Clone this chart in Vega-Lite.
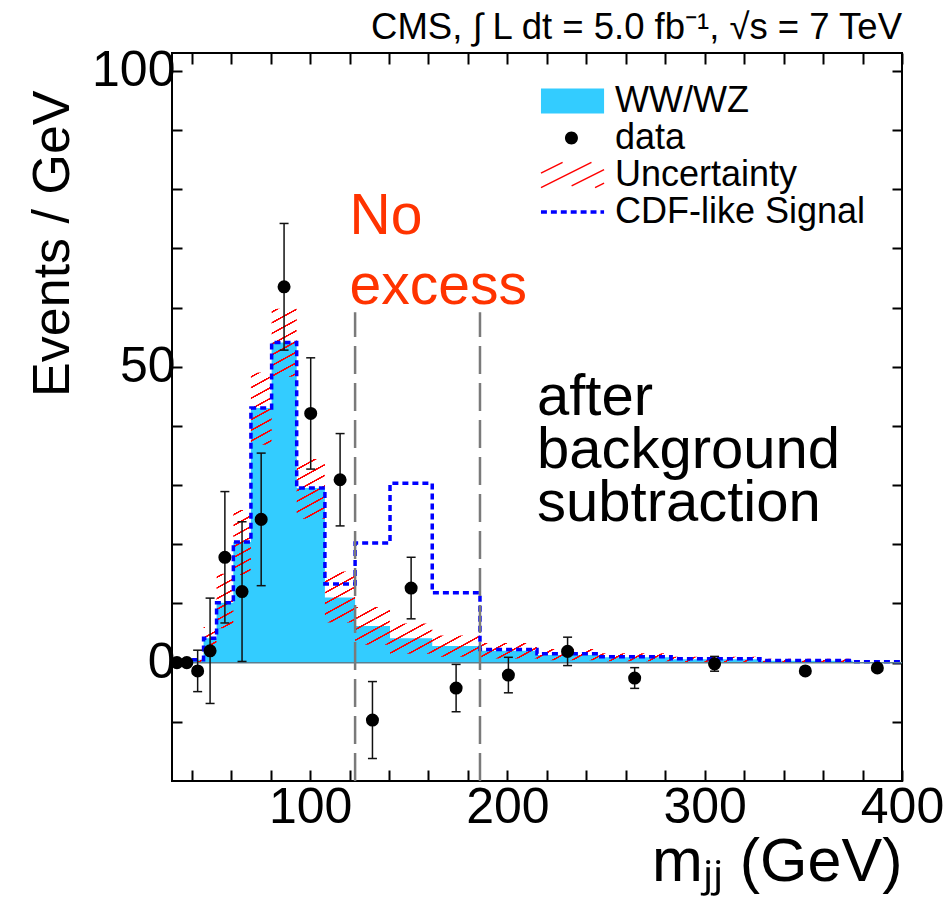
{
  "$schema": "https://vega.github.io/schema/vega-lite/v6.json",
  "width": 730,
  "height": 728,
  "autosize": {"type": "none"},
  "padding": {"left": 172, "top": 53, "right": 45, "bottom": 123},
  "background": "white",
  "title": {"text": "CMS, ∫ L dt = 5.0 fb⁻¹, √s = 7 TeV", "anchor": "end", "frame": "group", "fontSize": 36.5, "font": "Liberation Sans", "fontWeight": "normal", "color": "black", "offset": 5, "baseline": "bottom", "dy": 43},
  "config": {
    "font": "Liberation Sans",
    "view": {"stroke": "black", "strokeWidth": 2},
    "axis": {"tickColor": "black", "tickWidth": 2, "labelColor": "black", "titleColor": "black", "titleFontWeight": "normal", "labelFont": "Liberation Sans", "titleFont": "Liberation Sans", "grid": false, "domain": false},
    "legend": {"labelFont": "Liberation Sans", "labelFontSize": 36, "labelColor": "black", "labelLimit": 0, "padding": 0, "rowPadding": -2, "symbolSize": 1300, "symbolStrokeWidth": 1.5, "symbolOpacity": 1, "labelOffset": 37, "titlePadding": 0}
  },
  "datasets": {
    "hist": [
      {"m": 30, "ww": 0, "sig": 0},
      {"m": 35, "ww": 0, "sig": 0},
      {"m": 40, "ww": 0.5, "sig": 0.5, "lo": 0, "hi": 1.0},
      {"m": 46, "ww": 4.1, "sig": 4.1, "lo": 2.3, "hi": 6.0},
      {"m": 52.6, "ww": 10.1, "sig": 10.1, "lo": 5.8, "hi": 15.0},
      {"m": 61.1, "ww": 20.4, "sig": 20.4, "lo": 14.8, "hi": 25.8},
      {"m": 70, "ww": 43.0, "sig": 43.0, "lo": 36.8, "hi": 49.0},
      {"m": 80.5, "ww": 54.1, "sig": 54.1, "lo": 48.3, "hi": 59.8},
      {"m": 93.2, "ww": 29.5, "sig": 29.5, "lo": 24.3, "hi": 34.4},
      {"m": 107.5, "ww": 11.0, "sig": 13.3, "lo": 6.8, "hi": 15.4},
      {"m": 122.8, "ww": 6.2, "sig": 20.2, "lo": 3.0, "hi": 9.4},
      {"m": 140.5, "ww": 4.1, "sig": 30.3, "lo": 1.5, "hi": 6.6},
      {"m": 161.9, "ww": 2.8, "sig": 11.8, "lo": 1.0, "hi": 4.6},
      {"m": 186.1, "ww": 2.0, "sig": 2.2, "lo": 0.7, "hi": 3.3},
      {"m": 215, "ww": 1.3, "sig": 1.5, "lo": 0.4, "hi": 2.3},
      {"m": 246, "ww": 0.9, "sig": 1.0, "lo": 0.25, "hi": 1.6},
      {"m": 283, "ww": 0.55, "sig": 0.65, "lo": 0.1, "hi": 1.0},
      {"m": 328, "ww": 0.3, "sig": 0.35, "lo": 0.0, "hi": 0.65},
      {"m": 375, "ww": 0.1, "sig": 0.15, "lo": -0.1, "hi": 0.35},
      {"m": 400, "ww": 0.1, "sig": 0.15, "lo": -0.1, "hi": 0.35}
    ],
    "pts": [
      {"m": 32.5, "n": 0, "lo": 0, "hi": 0},
      {"m": 37.5, "n": 0, "lo": 0, "hi": 0},
      {"m": 43, "n": -1.4, "lo": -4.9, "hi": 2.1},
      {"m": 49.3, "n": 2.0, "lo": -6.9, "hi": 10.9},
      {"m": 56.8, "n": 17.8, "lo": 6.7, "hi": 28.9},
      {"m": 65.5, "n": 12.0, "lo": 0.2, "hi": 23.8},
      {"m": 75.2, "n": 24.2, "lo": 13.0, "hi": 35.4},
      {"m": 86.8, "n": 63.5, "lo": 52.8, "hi": 74.2},
      {"m": 100.3, "n": 42.1, "lo": 32.7, "hi": 51.5},
      {"m": 115.2, "n": 30.9, "lo": 23.1, "hi": 38.7},
      {"m": 131.6, "n": -9.7, "lo": -16.2, "hi": -3.2},
      {"m": 151.2, "n": 12.6, "lo": 7.4, "hi": 17.8},
      {"m": 174, "n": -4.3, "lo": -8.3, "hi": -0.3},
      {"m": 200.5, "n": -2.1, "lo": -5.1, "hi": 0.9},
      {"m": 230.5, "n": 1.9, "lo": -0.5, "hi": 4.3},
      {"m": 264.5, "n": -2.6, "lo": -4.35, "hi": -0.85},
      {"m": 305, "n": -0.2, "lo": -1.45, "hi": 1.05},
      {"m": 351, "n": -1.4, "lo": -2.0, "hi": -0.8},
      {"m": 387.5, "n": -0.9, "lo": -1.4, "hi": -0.4}
    ],
    "cuts": [{"m": 122.8}, {"m": 186.1}],
    "one": [{}]
  },
  "resolve": {"axis": {"x": "independent", "y": "independent"}},
  "layer": [
    {
      "data": {"name": "hist"},
      "mark": {"type": "area", "interpolate": "step-after", "color": "#33ccff", "opacity": 1},
      "encoding": {
        "x": {"field": "m", "type": "quantitative", "scale": {"domain": [30, 400], "nice": false, "zero": false},
          "axis": {"orient": "bottom", "values": [40, 60, 80, 100, 120, 140, 160, 180, 200, 220, 240, 260, 280, 300, 320, 340, 360, 380, 400],
            "labelExpr": "datum.value % 100 === 0 ? datum.label : ''", "ticks": true, "tickSize": -11, "labelFlush": false, "labelBound": false, "labelOverlap": false,
            "labelPadding": 12, "labelFontSize": 50, "title": "mⱼⱼ (GeV)", "titleFontSize": 61, "titleAnchor": "end", "titleAlign": "right", "titleBaseline": "alphabetic", "titleX": 730, "titleY": 99,
            "encode": {"ticks": {"y2": {"value": {"expr": "datum.value % 100 === 0 ? -20 : -11"}}}}}},
        "y": {"field": "ww", "type": "quantitative", "scale": {"domain": [-20, 103], "nice": false, "zero": false},
          "axis": {"orient": "left", "values": [-10, 0, 10, 20, 30, 40, 50, 60, 70, 80, 90, 100],
            "labelExpr": "datum.value % 50 === 0 ? datum.label : ''", "ticks": true, "tickSize": -10, "labelFlush": false, "labelOverlap": false,
            "labelPadding": 7, "labelFontSize": 50, "title": "Events / GeV", "titleFontSize": 52, "titleAngle": 270, "titleAnchor": "end", "titleAlign": "right", "titleBaseline": "alphabetic", "titleX": -104, "titleY": 37,
            "encode": {"ticks": {"x2": {"value": {"expr": "datum.value % 50 === 0 ? 22 : 10"}}}}}},
        "y2": {"datum": 0}
      }
    },
    {
      "data": {"name": "hist"},
      "transform": [{"filter": {"field": "lo", "valid": true}}],
      "mark": {"type": "area", "interpolate": "step-after", "fill": {"gradient": "linear", "x1": 0, "y1": 0, "x2": 1, "y2": 0.91, "stops": [
        {"offset":0.005,"color":"#f000"},{"offset":0.0055,"color":"#f00"},{"offset":0.0075,"color":"#f00"},{"offset":0.008,"color":"#f000"},
        {"offset":0.02,"color":"#f000"},{"offset":0.0205,"color":"#f00"},{"offset":0.0225,"color":"#f00"},{"offset":0.023,"color":"#f000"},
        {"offset":0.035,"color":"#f000"},{"offset":0.0355,"color":"#f00"},{"offset":0.0375,"color":"#f00"},{"offset":0.038,"color":"#f000"},
        {"offset":0.05,"color":"#f000"},{"offset":0.0505,"color":"#f00"},{"offset":0.0525,"color":"#f00"},{"offset":0.053,"color":"#f000"},
        {"offset":0.065,"color":"#f000"},{"offset":0.0655,"color":"#f00"},{"offset":0.0675,"color":"#f00"},{"offset":0.068,"color":"#f000"},
        {"offset":0.08,"color":"#f000"},{"offset":0.0805,"color":"#f00"},{"offset":0.0825,"color":"#f00"},{"offset":0.083,"color":"#f000"},
        {"offset":0.095,"color":"#f000"},{"offset":0.0955,"color":"#f00"},{"offset":0.0975,"color":"#f00"},{"offset":0.098,"color":"#f000"},
        {"offset":0.11,"color":"#f000"},{"offset":0.1105,"color":"#f00"},{"offset":0.1125,"color":"#f00"},{"offset":0.113,"color":"#f000"},
        {"offset":0.125,"color":"#f000"},{"offset":0.1255,"color":"#f00"},{"offset":0.1275,"color":"#f00"},{"offset":0.128,"color":"#f000"},
        {"offset":0.14,"color":"#f000"},{"offset":0.1405,"color":"#f00"},{"offset":0.1425,"color":"#f00"},{"offset":0.143,"color":"#f000"},
        {"offset":0.155,"color":"#f000"},{"offset":0.1555,"color":"#f00"},{"offset":0.1575,"color":"#f00"},{"offset":0.158,"color":"#f000"},
        {"offset":0.17,"color":"#f000"},{"offset":0.1705,"color":"#f00"},{"offset":0.1725,"color":"#f00"},{"offset":0.173,"color":"#f000"},
        {"offset":0.185,"color":"#f000"},{"offset":0.1855,"color":"#f00"},{"offset":0.1875,"color":"#f00"},{"offset":0.188,"color":"#f000"},
        {"offset":0.2,"color":"#f000"},{"offset":0.2005,"color":"#f00"},{"offset":0.2025,"color":"#f00"},{"offset":0.203,"color":"#f000"},
        {"offset":0.215,"color":"#f000"},{"offset":0.2155,"color":"#f00"},{"offset":0.2175,"color":"#f00"},{"offset":0.218,"color":"#f000"},
        {"offset":0.23,"color":"#f000"},{"offset":0.2305,"color":"#f00"},{"offset":0.2325,"color":"#f00"},{"offset":0.233,"color":"#f000"},
        {"offset":0.245,"color":"#f000"},{"offset":0.2455,"color":"#f00"},{"offset":0.2475,"color":"#f00"},{"offset":0.248,"color":"#f000"},
        {"offset":0.26,"color":"#f000"},{"offset":0.2605,"color":"#f00"},{"offset":0.2625,"color":"#f00"},{"offset":0.263,"color":"#f000"},
        {"offset":0.275,"color":"#f000"},{"offset":0.2755,"color":"#f00"},{"offset":0.2775,"color":"#f00"},{"offset":0.278,"color":"#f000"},
        {"offset":0.29,"color":"#f000"},{"offset":0.2905,"color":"#f00"},{"offset":0.2925,"color":"#f00"},{"offset":0.293,"color":"#f000"},
        {"offset":0.305,"color":"#f000"},{"offset":0.3055,"color":"#f00"},{"offset":0.3075,"color":"#f00"},{"offset":0.308,"color":"#f000"},
        {"offset":0.32,"color":"#f000"},{"offset":0.3205,"color":"#f00"},{"offset":0.3225,"color":"#f00"},{"offset":0.323,"color":"#f000"},
        {"offset":0.335,"color":"#f000"},{"offset":0.3355,"color":"#f00"},{"offset":0.3375,"color":"#f00"},{"offset":0.338,"color":"#f000"},
        {"offset":0.35,"color":"#f000"},{"offset":0.3505,"color":"#f00"},{"offset":0.3525,"color":"#f00"},{"offset":0.353,"color":"#f000"},
        {"offset":0.365,"color":"#f000"},{"offset":0.3655,"color":"#f00"},{"offset":0.3675,"color":"#f00"},{"offset":0.368,"color":"#f000"},
        {"offset":0.38,"color":"#f000"},{"offset":0.3805,"color":"#f00"},{"offset":0.3825,"color":"#f00"},{"offset":0.383,"color":"#f000"},
        {"offset":0.395,"color":"#f000"},{"offset":0.3955,"color":"#f00"},{"offset":0.3975,"color":"#f00"},{"offset":0.398,"color":"#f000"},
        {"offset":0.41,"color":"#f000"},{"offset":0.4105,"color":"#f00"},{"offset":0.4125,"color":"#f00"},{"offset":0.413,"color":"#f000"},
        {"offset":0.425,"color":"#f000"},{"offset":0.4255,"color":"#f00"},{"offset":0.4275,"color":"#f00"},{"offset":0.428,"color":"#f000"},
        {"offset":0.44,"color":"#f000"},{"offset":0.4405,"color":"#f00"},{"offset":0.4425,"color":"#f00"},{"offset":0.443,"color":"#f000"},
        {"offset":0.455,"color":"#f000"},{"offset":0.4555,"color":"#f00"},{"offset":0.4575,"color":"#f00"},{"offset":0.458,"color":"#f000"},
        {"offset":0.47,"color":"#f000"},{"offset":0.4705,"color":"#f00"},{"offset":0.4725,"color":"#f00"},{"offset":0.473,"color":"#f000"},
        {"offset":0.485,"color":"#f000"},{"offset":0.4855,"color":"#f00"},{"offset":0.4875,"color":"#f00"},{"offset":0.488,"color":"#f000"},
        {"offset":0.5,"color":"#f000"},{"offset":0.5005,"color":"#f00"},{"offset":0.5025,"color":"#f00"},{"offset":0.503,"color":"#f000"},
        {"offset":0.515,"color":"#f000"},{"offset":0.5155,"color":"#f00"},{"offset":0.5175,"color":"#f00"},{"offset":0.518,"color":"#f000"},
        {"offset":0.53,"color":"#f000"},{"offset":0.5305,"color":"#f00"},{"offset":0.5325,"color":"#f00"},{"offset":0.533,"color":"#f000"},
        {"offset":0.545,"color":"#f000"},{"offset":0.5455,"color":"#f00"},{"offset":0.5475,"color":"#f00"},{"offset":0.548,"color":"#f000"},
        {"offset":0.56,"color":"#f000"},{"offset":0.5605,"color":"#f00"},{"offset":0.5625,"color":"#f00"},{"offset":0.563,"color":"#f000"},
        {"offset":0.575,"color":"#f000"},{"offset":0.5755,"color":"#f00"},{"offset":0.5775,"color":"#f00"},{"offset":0.578,"color":"#f000"},
        {"offset":0.59,"color":"#f000"},{"offset":0.5905,"color":"#f00"},{"offset":0.5925,"color":"#f00"},{"offset":0.593,"color":"#f000"},
        {"offset":0.605,"color":"#f000"},{"offset":0.6055,"color":"#f00"},{"offset":0.6075,"color":"#f00"},{"offset":0.608,"color":"#f000"},
        {"offset":0.62,"color":"#f000"},{"offset":0.6205,"color":"#f00"},{"offset":0.6225,"color":"#f00"},{"offset":0.623,"color":"#f000"},
        {"offset":0.635,"color":"#f000"},{"offset":0.6355,"color":"#f00"},{"offset":0.6375,"color":"#f00"},{"offset":0.638,"color":"#f000"},
        {"offset":0.65,"color":"#f000"},{"offset":0.6505,"color":"#f00"},{"offset":0.6525,"color":"#f00"},{"offset":0.653,"color":"#f000"},
        {"offset":0.665,"color":"#f000"},{"offset":0.6655,"color":"#f00"},{"offset":0.6675,"color":"#f00"},{"offset":0.668,"color":"#f000"},
        {"offset":0.68,"color":"#f000"},{"offset":0.6805,"color":"#f00"},{"offset":0.6825,"color":"#f00"},{"offset":0.683,"color":"#f000"},
        {"offset":0.695,"color":"#f000"},{"offset":0.6955,"color":"#f00"},{"offset":0.6975,"color":"#f00"},{"offset":0.698,"color":"#f000"},
        {"offset":0.71,"color":"#f000"},{"offset":0.7105,"color":"#f00"},{"offset":0.7125,"color":"#f00"},{"offset":0.713,"color":"#f000"},
        {"offset":0.725,"color":"#f000"},{"offset":0.7255,"color":"#f00"},{"offset":0.7275,"color":"#f00"},{"offset":0.728,"color":"#f000"},
        {"offset":0.74,"color":"#f000"},{"offset":0.7405,"color":"#f00"},{"offset":0.7425,"color":"#f00"},{"offset":0.743,"color":"#f000"},
        {"offset":0.755,"color":"#f000"},{"offset":0.7555,"color":"#f00"},{"offset":0.7575,"color":"#f00"},{"offset":0.758,"color":"#f000"},
        {"offset":0.77,"color":"#f000"},{"offset":0.7705,"color":"#f00"},{"offset":0.7725,"color":"#f00"},{"offset":0.773,"color":"#f000"},
        {"offset":0.785,"color":"#f000"},{"offset":0.7855,"color":"#f00"},{"offset":0.7875,"color":"#f00"},{"offset":0.788,"color":"#f000"},
        {"offset":0.8,"color":"#f000"},{"offset":0.8005,"color":"#f00"},{"offset":0.8025,"color":"#f00"},{"offset":0.803,"color":"#f000"},
        {"offset":0.815,"color":"#f000"},{"offset":0.8155,"color":"#f00"},{"offset":0.8175,"color":"#f00"},{"offset":0.818,"color":"#f000"},
        {"offset":0.83,"color":"#f000"},{"offset":0.8305,"color":"#f00"},{"offset":0.8325,"color":"#f00"},{"offset":0.833,"color":"#f000"},
        {"offset":0.845,"color":"#f000"},{"offset":0.8455,"color":"#f00"},{"offset":0.8475,"color":"#f00"},{"offset":0.848,"color":"#f000"},
        {"offset":0.86,"color":"#f000"},{"offset":0.8605,"color":"#f00"},{"offset":0.8625,"color":"#f00"},{"offset":0.863,"color":"#f000"},
        {"offset":0.875,"color":"#f000"},{"offset":0.8755,"color":"#f00"},{"offset":0.8775,"color":"#f00"},{"offset":0.878,"color":"#f000"},
        {"offset":0.89,"color":"#f000"},{"offset":0.8905,"color":"#f00"},{"offset":0.8925,"color":"#f00"},{"offset":0.893,"color":"#f000"},
        {"offset":0.905,"color":"#f000"},{"offset":0.9055,"color":"#f00"},{"offset":0.9075,"color":"#f00"},{"offset":0.908,"color":"#f000"},
        {"offset":0.92,"color":"#f000"},{"offset":0.9205,"color":"#f00"},{"offset":0.9225,"color":"#f00"},{"offset":0.923,"color":"#f000"},
        {"offset":0.935,"color":"#f000"},{"offset":0.9355,"color":"#f00"},{"offset":0.9375,"color":"#f00"},{"offset":0.938,"color":"#f000"},
        {"offset":0.95,"color":"#f000"},{"offset":0.9505,"color":"#f00"},{"offset":0.9525,"color":"#f00"},{"offset":0.953,"color":"#f000"},
        {"offset":0.965,"color":"#f000"},{"offset":0.9655,"color":"#f00"},{"offset":0.9675,"color":"#f00"},{"offset":0.968,"color":"#f000"},
        {"offset":0.98,"color":"#f000"},{"offset":0.9805,"color":"#f00"},{"offset":0.9825,"color":"#f00"},{"offset":0.983,"color":"#f000"},
        {"offset":0.995,"color":"#f000"},{"offset":0.9955,"color":"#f00"},{"offset":0.9975,"color":"#f00"},{"offset":0.998,"color":"#f000"}
      ]}},
      "encoding": {
        "x": {"field": "m", "type": "quantitative", "scale": {"domain": [30, 400], "nice": false, "zero": false},
          "axis": {"orient": "top", "values": [40, 60, 80, 100, 120, 140, 160, 180, 200, 220, 240, 260, 280, 300, 320, 340, 360, 380, 400],
            "labels": false, "ticks": true, "tickSize": -11, "title": null,
            "encode": {"ticks": {"y2": {"value": {"expr": "datum.value % 100 === 0 ? 20 : 11"}}}}}},
        "y": {"field": "lo", "type": "quantitative", "scale": {"domain": [-20, 103], "nice": false, "zero": false},
          "axis": {"orient": "right", "values": [-10, 0, 10, 20, 30, 40, 50, 60, 70, 80, 90, 100],
            "labels": false, "ticks": true, "tickSize": -10, "title": null,
            "encode": {"ticks": {"x2": {"value": {"expr": "datum.value % 50 === 0 ? -22 : -10"}}}}}},
        "y2": {"field": "hi"}
      }
    },
    {
      "data": {"name": "hist"},
      "transform": [{"filter": "datum.m >= 40"}],
      "mark": {"type": "line", "interpolate": "step-after", "color": "#0000ff", "strokeWidth": 3.5, "strokeDash": [6, 4]},
      "encoding": {
        "x": {"field": "m", "type": "quantitative", "axis": null},
        "y": {"field": "sig", "type": "quantitative", "axis": null}
      }
    },
    {
      "data": {"name": "one"},
      "mark": {"type": "rule", "color": "#5b7f8f", "strokeWidth": 1.5},
      "encoding": {
        "x": {"datum": 30, "type": "quantitative", "axis": null},
        "x2": {"datum": 400},
        "y": {"datum": 0, "type": "quantitative", "axis": null}
      }
    },
    {
      "data": {"name": "cuts"},
      "mark": {"type": "rule", "color": "#7a7a7a", "strokeWidth": 2.5, "strokeDash": [28, 9]},
      "encoding": {
        "x": {"field": "m", "type": "quantitative", "axis": null},
        "y": {"datum": -20, "type": "quantitative", "axis": null},
        "y2": {"datum": 59.2}
      }
    },
    {
      "data": {"name": "pts"},
      "mark": {"type": "rule", "color": "#111111", "strokeWidth": 1.5},
      "encoding": {
        "x": {"field": "m", "type": "quantitative", "axis": null},
        "y": {"field": "lo", "type": "quantitative", "axis": null},
        "y2": {"field": "hi"}
      }
    },
    {
      "data": {"name": "pts"},
      "mark": {"type": "tick", "orient": "horizontal", "size": 9, "thickness": 1.5, "color": "#111111", "opacity": 1},
      "encoding": {
        "x": {"field": "m", "type": "quantitative", "axis": null},
        "y": {"field": "lo", "type": "quantitative", "axis": null}
      }
    },
    {
      "data": {"name": "pts"},
      "mark": {"type": "tick", "orient": "horizontal", "size": 9, "thickness": 1.5, "color": "#111111", "opacity": 1},
      "encoding": {
        "x": {"field": "m", "type": "quantitative", "axis": null},
        "y": {"field": "hi", "type": "quantitative", "axis": null}
      }
    },
    {
      "data": {"name": "pts"},
      "mark": {"type": "point", "filled": true, "size": 170, "opacity": 1, "color": "black"},
      "encoding": {
        "x": {"field": "m", "type": "quantitative", "axis": null},
        "y": {"field": "n", "type": "quantitative", "axis": null}
      }
    },
    {
      "data": {"name": "one"},
      "mark": {"type": "point", "filled": true, "opacity": 0},
      "encoding": {
        "x": {"datum": 30, "type": "quantitative", "axis": null},
        "y": {"datum": 0, "type": "quantitative", "axis": null},
        "color": {"datum": "WW/WZ", "type": "nominal",
          "scale": {"domain": ["WW/WZ", "data", "Uncertainty", "CDF-like Signal"], "range": ["#33ccff", "black", "transparent", "blue"]},
          "legend": {"title": null, "orient": "none", "legendX": 368, "legendY": 29}},
        "stroke": {"datum": "WW/WZ", "type": "nominal",
          "scale": {"domain": ["WW/WZ", "data", "Uncertainty", "CDF-like Signal"], "range": ["transparent", "transparent", "red", "transparent"]},
          "legend": {"title": null, "orient": "none", "legendX": 368, "legendY": 29}},
        "shape": {"datum": "WW/WZ", "type": "nominal",
          "scale": {"domain": ["WW/WZ", "data", "Uncertainty", "CDF-like Signal"], "range": [
            "M-1,-0.7H2.5V0.7H-1Z",
            "M0.33,0A0.36,0.36,0,1,1,1.05,0A0.36,0.36,0,1,1,0.33,0Z",
            "M-1,-0.1L0.2,-0.7M-1,0.7L1.8,-0.7M0.7,0.6L2.5,-0.3M2,0.7L2.5,0.45",
            "M-1,-0.1H-0.67V0.1H-1ZM-0.45,-0.1H-0.12V0.1H-0.45ZM0.1,-0.1H0.43V0.1H0.1ZM0.65,-0.1H0.98V0.1H0.65ZM1.2,-0.1H1.53V0.1H1.2ZM1.75,-0.1H2.08V0.1H1.75ZM2.3,-0.1H2.5V0.1H2.3Z"
          ]},
          "legend": {"title": null, "orient": "none", "legendX": 368, "legendY": 29}}
      }
    },
    {
      "data": {"name": "one"},
      "mark": {"type": "text", "text": ["No", "excess"], "align": "left", "baseline": "alphabetic", "fontSize": 57, "lineHeight": 70, "color": "#ff3300", "font": "Liberation Sans"},
      "encoding": {
        "x": {"datum": 120, "type": "quantitative", "axis": null},
        "y": {"datum": 72.5, "type": "quantitative", "axis": null}
      }
    },
    {
      "data": {"name": "one"},
      "mark": {"type": "text", "text": ["after", "background", "subtraction"], "align": "left", "baseline": "alphabetic", "fontSize": 58, "lineHeight": 53, "color": "black", "font": "Liberation Sans"},
      "encoding": {
        "x": {"datum": 215, "type": "quantitative", "axis": null},
        "y": {"datum": 41.8, "type": "quantitative", "axis": null}
      }
    }
  ]
}
